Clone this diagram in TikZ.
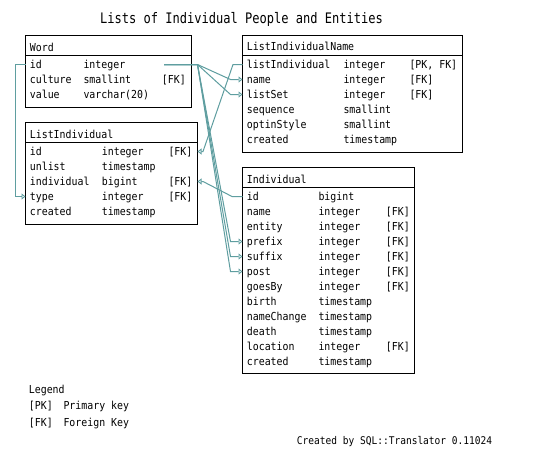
\documentclass[tikz,border=0pt]{standalone}
\usepackage{fontspec}
\newfontfamily\dfont[FakeStretch=0.9]{DejaVu Sans Mono}
\newfontfamily\tfont[FakeStretch=0.83]{DejaVu Sans Mono}
\usetikzlibrary{arrows.meta,calc}
\definecolor{fkc}{RGB}{95,158,160}
\begin{document}
\begin{tikzpicture}[x=1pt,y=-1pt,
  tbl/.style={draw, line width=1pt, anchor=north west, inner sep=0pt, outer sep=0pt},
  cell/.style={font=\fontsize{11}{13}\dfont, anchor=west, inner sep=0pt, text height=9pt, text depth=2pt},
  legtext/.style={font=\fontsize{11}{13}\dfont, anchor=base west, inner sep=0pt},
  fk/.style={draw=fkc, line width=1pt, -{Triangle[open, length=4pt, width=6pt, line width=0.8pt]}},
  hdr/.style={line width=1pt}]
\fill[white] (0,0) rectangle (542,450);
\useasboundingbox (0,0) rectangle (542,450);

% title
\node[font=\fontsize{14.5}{16}\tfont, anchor=base, inner sep=0pt] (title) at (241.5,23.5) {Lists of Individual People and Entities};

% tables
\node[tbl, minimum width=166pt, minimum height=72pt] (word) at (25.5,35.5) {};
\node[tbl, minimum width=172pt, minimum height=102pt] (li) at (25.5,122.5) {};
\node[tbl, minimum width=220pt, minimum height=117pt] (lin) at (242.5,35.5) {};
\node[tbl, minimum width=172pt, minimum height=206pt] (ind) at (242.5,167.5) {};
\foreach \t in {word,li,lin,ind}
  \draw[hdr] ($(\t.north west)+(0,20)$) -- ($(\t.north east)+(0,20)$);

% headers
\node[cell] (w-h) at (29.7,47.5) {Word};
\node[cell] (li-h) at (29.7,135.2) {ListIndividual};
\node[cell] (lin-h) at (246.7,47) {ListIndividualName};
\node[cell] (ind-h) at (246.7,179.6) {Individual};

% Word rows
\foreach \nm/\ty/\ky [count=\i from 0] in {id/integer/{}, culture/smallint/{[FK]}, value/{varchar(20)}/{}} {
  \node[cell] (w-\nm) at (29.7,64.5+15*\i) {\nm};
  \node[cell] (w-\nm-t) at (83.3,64.5+15*\i) {\ty};
  \node[cell] (w-\nm-k) at (161.7,64.5+15*\i) {\ky};
}
% ListIndividual rows
\foreach \nm/\ty/\ky [count=\i from 0] in {id/integer/{[FK]}, unlist/timestamp/{}, individual/bigint/{[FK]}, type/integer/{[FK]}, created/timestamp/{}} {
  \node[cell] (li-\nm) at (29.7,151.5+15*\i) {\nm};
  \node[cell] (li-\nm-t) at (101.7,151.5+15*\i) {\ty};
  \node[cell] (li-\nm-k) at (168.3,151.5+15*\i) {\ky};
}
% ListIndividualName rows
\foreach \nm/\ty/\ky [count=\i from 0] in {listIndividual/integer/{[PK, FK]}, name/integer/{[FK]}, listSet/integer/{[FK]}, sequence/smallint/{}, optinStyle/smallint/{}, created/timestamp/{}} {
  \node[cell] (lin-\nm) at (246.7,64.5+15*\i) {\nm};
  \node[cell] (lin-\nm-t) at (343.3,64.5+15*\i) {\ty};
  \node[cell] (lin-\nm-k) at (409.3,64.5+15*\i) {\ky};
}
% Individual rows
\foreach \nm/\ty/\ky [count=\i from 0] in {id/bigint/{}, name/integer/{[FK]}, entity/integer/{[FK]}, prefix/integer/{[FK]}, suffix/integer/{[FK]}, post/integer/{[FK]}, goesBy/integer/{[FK]}, birth/timestamp/{}, nameChange/timestamp/{}, death/timestamp/{}, location/integer/{[FK]}, created/timestamp/{}} {
  \node[cell] (ind-\nm) at (246.7,196.5+15*\i) {\nm};
  \node[cell] (ind-\nm-t) at (318.3,196.5+15*\i) {\ty};
  \node[cell] (ind-\nm-k) at (385.7,196.5+15*\i) {\ky};
}

% connectors
\coordinate (w-id-r) at (164,64.5);
\draw[fk] (word.west |- w-id) -- ++(-10,0) |- (li.west |- li-type);
\foreach \tgt/\tb in {lin-name/lin, lin-listSet/lin, ind-prefix/ind, ind-suffix/ind, ind-post/ind}
  \draw[fk] (w-id-r) -- (li.east |- w-id) -- ($(\tb.west |- \tgt)+(-12,0)$) -- (\tb.west |- \tgt);
\draw[fk] (lin.west |- lin-listIndividual) -- ($(lin.west |- lin-listIndividual)+(-9.5,0)$)
  -- ($(li.east |- li-id)+(5.5,0)$) -- (li.east |- li-id);
\draw[fk] (ind.west |- ind-id) -- ($(ind.west |- ind-id)+(-10.5,0)$)
  -- ($(li.east |- li-individual)+(5.5,0)$) -- (li.east |- li-individual);

% legend
\node[legtext] (leg) at (28.7,393.5) {Legend};
\node[legtext] (leg-pk) at (28.7,409.5) {[PK]};
\node[legtext] (leg-pkt) at (63.3,409.5) {Primary key};
\node[legtext] (leg-fk) at (28.7,426.5) {[FK]};
\node[legtext] (leg-fkt) at (63.3,426.5) {Foreign Key};
\node[legtext, font=\fontsize{10.6}{13}\dfont] (credit) at (296.7,444) {Created by SQL::Translator 0.11024};
\end{tikzpicture}
\end{document}
